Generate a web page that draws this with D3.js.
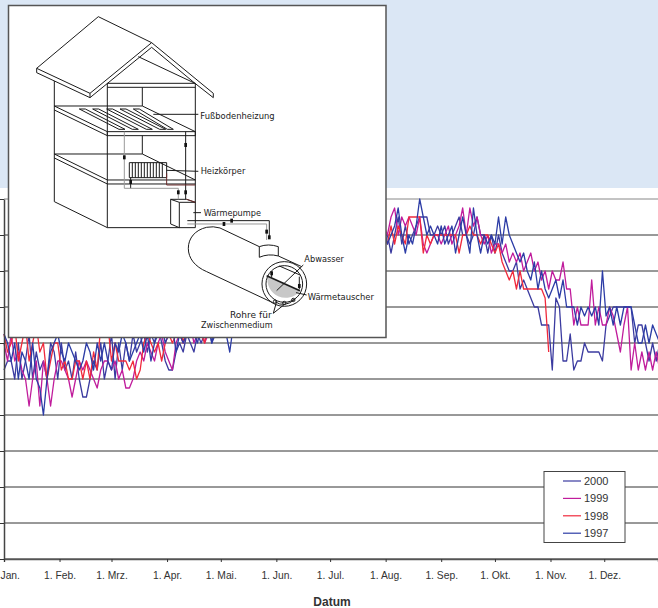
<!DOCTYPE html>
<html>
<head>
<meta charset="utf-8">
<script src="https://cdn.jsdelivr.net/npm/d3@7"></script>
<style>
  html, body { margin: 0; padding: 0; background: #fff; }
  svg { display: block; }
  text { font-family: "Liberation Sans", Arial, sans-serif; fill: #333; }
  .art path, .art circle { fill: none; stroke: #1a1a1a; stroke-width: 3; stroke-linejoin: round; }
  .art text { font-family: "DejaVu Sans", sans-serif; font-size: 26px; fill: #1a1a1a; }
</style>
</head>
<body>
<svg id="chart" width="658" height="608"></svg>
<script>
// Common configuration values
const CONFIG = {
  width: 658,
  height: 608,
  bandHeight: 188,
  plot: { left: 4, right: 658, top: 199, bottom: 559 },
  inset: { x: 8.5, y: 5.5, w: 377.5, h: 332 }
};

// values, one every 2 days, half degree steps
const stepDays = 2;
const series2000 = [
  10.5,11,11,10,12,10,11,12.5,10,11.5,
  10.5,11,10,12,11.5,10,12,10.5,11,10,
  11.5,10,9,9,10,11,10.5,12,10,11,
  12.5,10,12,10.5,12,11,12.5,11.5,12,12.5,
  11.5,12.5,12,13,12,11,10.5,10.5,11.5,12,
  11.5,12.5,12,11.5,12.5,12,12.5,13,12,12.5,
  13,13,13.5,13,14,13.5,14,14.5,14,15,
  14.5,15,14,15,15.5,15,16,15,15.5,16,
  15.5,16.5,16,15.5,16,17,16,16.5,17,16,
  17,16.5,17.5,17,16.5,17,18,17,17.5,18,
  17,18.5,17.5,18,17.5,18,18,18,17,18,
  19,17.5,18.5,17.5,18,18.5,19,19,19,18,
  18,18.5,18,18.5,17.5,18,18.5,19,18,18,
  17.5,18,19,18,18,17,18,17,18,17,
  16.5,16,16,16.5,15,15.5,15,14.5,14,14,
  13,13,13,10.5,14.5,14,11,11,12.5,10.5,
  11,11,12,11.5,11.5,11.5,11.5,11,13,13.5,
  14,14,14,14,14,14,12,13,13,12,
  11,12,11,12
];
const series1999 = [
  12,11,12.5,11,11.5,10.5,10,8.5,10,11,
  8.5,11,10,8.5,10,11,11,10.5,10,9,
  10,11,10.5,11,10.5,10,9.5,10.5,11,11,
  10.5,11,10,10.5,9.5,9.5,10,11,11.5,11,
  12,11.5,11,12,12.5,11.5,11,10.5,12,12.5,
  12,12.5,13,12,12.5,13,12,12.5,13,12.5,
  13,13.5,13,14,13,14,14.5,14,15,14.5,
  15.5,15,14.5,15.5,16,15,16,15.5,16.5,16,
  15.5,16.5,16,17,16.5,16,17,17.5,16.5,17,
  17.5,17,16.5,17.5,18,17,18,17.5,18,17,
  18.5,18,17.5,18.5,17.5,18,18.5,18,19,19.5,
  18,19,18.5,19,18.5,18,19,17.5,17,17.5,
  18,18,17.5,18,18.5,17.5,18,18.5,19.5,18,
  19.5,18.5,19,18,17.5,18,17,17.5,17.5,17,
  17.5,16.5,17,16.5,17,16,16.5,17,16,16.5,
  15.5,16,15,16,15.5,15.5,16.5,15,15,13,
  14,13,13,13,15.5,13,14,13,13,14,
  13.5,12.5,11.5,13,14,10.5,12,10.5,11.5,10.5,
  11.5,10.5,11.5,10.5
];
// 1998 stops at the end of October
const series1998 = [
  12.5,11.5,12,13,11,12,13,11,12,13,
  11.5,12,10,11,12,12,10.5,11,10,10,
  11,11,10,11,10,11.5,10.5,13,12.5,13,
  11,12,11,11,11,10.5,11,10,10.5,12,
  12.5,12,11.5,12,11,12,12.5,12,12.5,13,
  12,13,12.5,13,13,12.5,12,13,13,13.5,
  13,14,13.5,14,14.5,14,15,14.5,15.5,15,
  14.5,15.5,16,15,16,15.5,16.5,16,15.5,16.5,
  17,16,16.5,17,16,17,17.5,16.5,17,18,
  17,17.5,17,18,17.5,16.5,18,17.5,18,17,
  17.5,18,17.5,18,17,18,18,17.5,18.5,17.5,
  18.5,18,17.5,19,19,19,19,17,18,17.5,
  18,18,18,18,18,18,18,17,18,18,
  18.5,18,18,17.5,18,18,17.5,17,17.5,16.5,
  16,15.5,16,15,16,15,15,15,15,15,
  15,14.5,11.5
];
const series1997 = [
  12.5,12,11,12,10,11.5,11,10,12,10,
  9.5,8,10,11.5,12,12.5,11.5,11,12,11.5,
  11,10.5,11,12,11.5,10.5,12,11,12,11,
  10.5,12,11.5,12.5,12,11,11.5,12,12.5,11.5,
  12.5,11,12,12.5,13,12,12.5,13,11.5,12.5,
  12,12.5,13,12.5,12,13,12.5,13,12,13,
  12.5,13,12.5,11.5,13,13.5,14,13.5,14.5,14,
  15,14.5,15,15.5,14.5,15.5,16,15,16,15.5,
  16.5,16,15.5,16.5,17,16,17,16.5,17.5,17,
  16.5,17.5,17,18,17,17.5,18,17,18,17.5,
  18,17.5,18.5,17.5,18,17,18.5,17.5,18,18.5,
  19.5,18,17,18,17.5,18.5,20,19,18,18.5,
  18,17.5,18.5,17.5,18,18.5,17,18,19,18,
  17,19.5,18,17,18,17.5,18,17.5,19,17.5,
  19,18,17.5,17,16.5,17,16,15.5,16.5,15,
  16,15,14.5,15,15.5,14.5,15.5,14,14,14,
  13,14,13.5,14,13.5,14,13,16,13.5,14,
  13,14,13,14,14,14,13,12,12,13,
  12,13,12.5,12
];

const legendYears = ["2000", "1999", "1998", "1997"];
const yearColors = ["#3b3ba0", "#c01c9c", "#f02a3c", "#2c3ca6"];
const yearValues = [series2000, series1999, series1998, series1997];

const monthStarts = [0, 31, 60, 91, 121, 152, 182, 213, 244, 274, 305, 335];
const monthLabels = ["1. Jan.", "1. Feb.", "1. Mrz.", "1. Apr.", "1. Mai.", "1. Jun.", "1. Jul.", "1. Aug.", "1. Sep.", "1. Okt.", "1. Nov.", "1. Dez."];
const gridValues = [0, 2, 4, 6, 8, 10, 12, 14, 16, 18, 20];

// line art of the heat pump drawing, in units of a 3x enlarged picture
const artLines = [
  // roof
  "M295 50 L110 205 V218 L270 293 V280 L455 128 Z",
  "M110 205 L270 280",
  "M455 128 L640 280 V293 L585 250 L455 142 L270 293",
  "M415 170 L585 250",
  // walls
  "M163 243 V605 L322 683 H586 V250 H322 V683",
  "M322 262 H586",
  "M427 262 V318",
  // upper floor
  "M163 318 H427 L586 395 H322 L163 318",
  "M163 330 L322 407 H586 V395",
  "M322 395 V407",
  "M427 407 V462",
  // lower floor
  "M163 462 H427 L586 540 H322 L163 462",
  "M163 474 L322 552 H586",
  // floor heating loops
  "M238 327 H256 L375 388 H357 Z",
  "M278 327 H296 L415 388 H397 Z",
  "M320 327 H338 L457 388 H439 Z",
  "M360 327 H378 L497 388 H479 Z",
  "M400 327 H418 L520 388 H502 Z",
  "M460 343 H595",
  // radiator
  "M388 488 H500 V533 H388 Z",
  "M397 488 V533 M406 488 V533 M415 488 V533 M424 488 V533 M433 488 V533 M442 488 V533 M451 488 V533 M460 488 V533 M469 488 V533 M478 488 V533 M487 488 V533",
  "M500 511 L595 514",
  // supply pipes
  "M557 395 V598",
  "M392 533 V565",
  // heat pump box
  "M512 598 L538 607 H586 L560 598 H512 V672 L538 683 V607",
  "M580 638 H603",
  // pipes to the tank
  "M562 662 H808 V715",
  // tank
  "M778 740 L660 684 Q640 678 620 682 C585 690 565 715 565 745 C565 775 585 800 620 815 L818 908",
  "M835 768 L905 800",
  "M778 740 V772 Q805 760 835 768 V740 Q805 730 778 740",
  "M838 798 L900 825",
  "M815 815 V832",
  "M898 830 V868",
  "M825 905 Q853 925 885 898",
  "M910 795 L830 872",
  "M888 878 L920 885",
  "M820 940 L830 905 M820 940 L855 912"
];
const artGrayLines = [
  "M373 395 V565 H535 V598",
  "M562 672 H800 V720"
];
const artBrownLines = [
  "M500 520 V555 H585",
  "M560 598 L586 607"
];
const artMarkers = [[373, 472], [557, 435], [392, 546], [535, 577], [557, 577], [695, 662], [672, 672], [800, 695], [808, 712], [815, 820], [898, 858]];
const artCircles = [[853, 852, 67], [853, 852, 55], [825, 905, 5], [853, 909, 5], [880, 900, 5]];
const artLabels = [
  { text: "Fußbodenheizung", x: 601, y: 356, w: 223 },
  { text: "Heizkörper", x: 602, y: 523, w: 134 },
  { text: "Wärmepumpe", x: 611, y: 649, w: 172 },
  { text: "Abwasser", x: 913, y: 786, w: 119 },
  { text: "Wärmetauscher", x: 923, y: 899, w: 199 },
  { text: "Rohre für", x: 690, y: 953, w: 125 },
  { text: "Zwischenmedium", x: 603, y: 983, w: 215 }
];

const svg = d3.select("#chart");
const plot = CONFIG.plot;

const x = d3.scaleLinear().domain([0, 365]).range([plot.left, plot.right]);
const y = d3.scaleLinear().domain([0, 20]).range([plot.bottom, plot.top]);

svg.append("rect").attr("width", CONFIG.width).attr("height", CONFIG.height).attr("fill", "#fff");
svg.append("rect").attr("width", CONFIG.width).attr("height", CONFIG.bandHeight).attr("fill", "#dbe7f5");

function drawGrid(g) {
  g.selectAll("line")
    .data(gridValues)
    .join("line")
    .attr("x1", plot.left)
    .attr("x2", plot.right)
    .attr("y1", d => y(d))
    .attr("y2", d => y(d))
    .attr("stroke", d => (d === 20 ? "#888" : d === 0 ? "#666" : "#333"))
    .attr("stroke-width", d => (d === 0 ? 1.4 : 1));
}

function drawAxes() {
  const xAxis = svg
    .append("g")
    .attr("transform", `translate(0,${plot.bottom})`)
    .call(
      d3.axisBottom(x)
        .tickValues(monthStarts)
        .tickFormat((d, i) => monthLabels[i])
        .tickSize(3)
        .tickPadding(10)
    );
  xAxis.select(".domain").attr("stroke", "#555").attr("stroke-width", 1.4);
  xAxis.selectAll(".tick line").attr("stroke", "#333");
  xAxis.selectAll("text").style("font-size", "10.3px").attr("fill", "#333").style("font-family", '"Liberation Sans", Arial, sans-serif');

  const yAxis = svg
    .append("g")
    .attr("transform", `translate(${plot.left},0)`)
    .call(d3.axisLeft(y).tickValues(gridValues).tickFormat("").tickSizeOuter(0).tickSizeInner(4));
  yAxis.select(".domain").attr("stroke", "#444").attr("stroke-width", 1.5);
  yAxis.selectAll(".tick line").attr("stroke", "#333");

  svg.append("text")
    .attr("x", 332)
    .attr("y", 606)
    .attr("text-anchor", "middle")
    .style("font-size", "12px")
    .style("font-weight", "bold")
    .text("Datum");
}

function drawSeries() {
  const line = d3.line()
    .x((d, i) => x(i * stepDays))
    .y(d => y(d));
  svg.append("g")
    .selectAll("path")
    .data(yearValues)
    .join("path")
    .attr("d", line)
    .attr("fill", "none")
    .attr("stroke", (d, i) => yearColors[i])
    .attr("stroke-width", 1.3)
    .attr("stroke-linejoin", "round");
}

function drawLegend() {
  const legend = svg.append("g").attr("transform", "translate(544,471.5)");
  legend.append("rect").attr("width", 81).attr("height", 71).attr("fill", "#fff").attr("stroke", "#444").attr("stroke-width", 1);
  const row = legend
    .selectAll("g")
    .data(legendYears)
    .join("g")
    .attr("transform", (d, i) => `translate(0,${9.5 + i * 17.4})`);
  row.append("line").attr("x1", 19).attr("x2", 37).attr("stroke", (d, i) => yearColors[i]).attr("stroke-width", 1.2);
  row.append("text").attr("x", 40).attr("y", 4).style("font-size", "11px").text(d => d);
}

function drawInset() {
  const { x: ix, y: iy, w, h } = CONFIG.inset;
  svg.append("rect")
    .attr("x", ix).attr("y", iy).attr("width", w).attr("height", h)
    .attr("fill", "#fff").attr("stroke", "#555").attr("stroke-width", 1.5);

  const art = svg.append("g").attr("class", "art").attr("transform", "scale(0.3333)");
  // water in the tank goes under the lines
  art.append("path").attr("d", "M803 829 L900 873 A55 55 0 0 1 803 829 Z").style("fill", "#c8c8c8").style("stroke", "none");
  art.selectAll("path.main").data(artLines).join("path").attr("class", "main").attr("d", d => d);
  art.selectAll("path.gray").data(artGrayLines).join("path").attr("class", "gray").attr("d", d => d).style("stroke", "#999");
  art.selectAll("path.brown").data(artBrownLines).join("path").attr("class", "brown").attr("d", d => d).style("stroke", "#6b2a2a");
  art.append("path").attr("d", "M800 827 L900 872").style("stroke-width", 5);
  art.selectAll("circle.ring").data(artCircles).join("circle").attr("class", "ring")
    .attr("cx", d => d[0]).attr("cy", d => d[1]).attr("r", d => d[2]);
  art.selectAll("rect.mark").data(artMarkers).join("rect").attr("class", "mark")
    .attr("x", d => d[0] - 4).attr("y", d => d[1] - 6).attr("width", 8).attr("height", 12).attr("fill", "#111");
  art.selectAll("text").data(artLabels).join("text")
    .attr("x", d => d.x).attr("y", d => d.y)
    .attr("textLength", d => d.w).attr("lengthAdjust", "spacingAndGlyphs")
    .text(d => d.text);
}

drawGrid(svg.append("g"));
drawSeries();
drawAxes();
drawLegend();
drawInset();
</script>
</body>
</html>
